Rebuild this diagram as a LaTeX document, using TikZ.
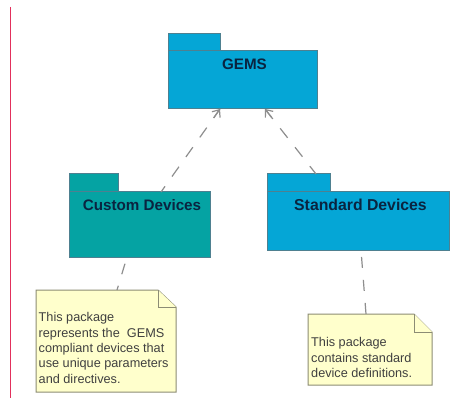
\documentclass[tikz,border=0pt]{standalone}
\usepackage{fontspec}
\setmainfont{Liberation Sans}
\usetikzlibrary{arrows.meta,calc}
\definecolor{pkgblue}{HTML}{05A6D6}
\definecolor{pkgteal}{HTML}{05A3A3}
\definecolor{pkgline}{HTML}{4E8090}
\definecolor{notefill}{HTML}{FFFFCC}
\definecolor{noteline}{HTML}{8C8C74}
\definecolor{linkgray}{HTML}{8E8E8E}
\definecolor{titleink}{HTML}{0A2440}
\definecolor{marginred}{HTML}{E2305C}
\tikzset{
  x=1pt,y=-1pt,
  pkgpart/.style={draw=pkgline,line width=1pt,anchor=north west,inner sep=0pt,outer sep=0pt},
  pkgtitle/.style={anchor=center,font=\bfseries\fontsize{15.2}{18}\selectfont,text=titleink,inner sep=0pt},
  noteframe/.style={anchor=north west,inner sep=0pt,outer sep=0pt},
  noteshape/.style={draw=noteline,line width=1pt,fill=notefill,line join=miter},
  notetext/.style={anchor=north west,inner sep=0pt,align=left,text=black!75,font=\fontsize{12.7}{15.3}\selectfont},
  deplink/.style={draw=linkgray,line width=1.2pt,dash pattern=on 12pt off 12pt},
  notelink/.style={draw=linkgray,line width=1.2pt,dash pattern=on 11pt off 12pt,dash phase=16pt},
  barb/.style={-{Straight Barb[length=6pt,width=10pt,line width=1.2pt]}}
}
\begin{document}
\begin{tikzpicture}
\useasboundingbox (0,0) rectangle (455,398);
\fill[white] (0,0) rectangle (455,398);
\draw[marginred,line width=1.1pt] (10.5,7) -- (10.5,398);

% packages
\node[pkgpart,fill=pkgblue,minimum width=52pt,minimum height=17pt] (gemstab) at (168,34) {};
\node[pkgpart,fill=pkgblue,minimum width=149pt,minimum height=58pt] (gems) at (168,51) {};
\node[pkgpart,fill=pkgteal,minimum width=49pt,minimum height=18pt] (customtab) at (69,174) {};
\node[pkgpart,fill=pkgteal,minimum width=141pt,minimum height=65pt] (custom) at (69,192) {};
\node[pkgpart,fill=pkgblue,minimum width=63pt,minimum height=18pt] (stdtab) at (267,174) {};
\node[pkgpart,fill=pkgblue,minimum width=182pt,minimum height=58pt] (std) at (267,192) {};

\node[pkgtitle] (gemstitle) at (244.5,64) {GEMS};
\node[pkgtitle] (customtitle) at (142,205) {Custom Devices};
\node[pkgtitle,font=\bfseries\fontsize{15.8}{18}\selectfont] (stdtitle) at (360.5,205) {Standard Devices};

% notes
\node[noteframe,minimum width=140pt,minimum height=102pt] (note1) at (36,290) {};
\node[noteframe,minimum width=124pt,minimum height=71pt] (note2) at (308,314) {};
\draw[noteshape] (note1.north west) -- ($(note1.north east)+(-18,0)$) -- ($(note1.north east)+(0,17)$) -- (note1.south east) -- (note1.south west) -- cycle;
\draw[noteshape] ($(note1.north east)+(-18,0)$) -- ($(note1.north east)+(-18,17)$) -- ($(note1.north east)+(0,17)$);
\draw[noteshape] (note2.north west) -- ($(note2.north east)+(-18,0)$) -- ($(note2.north east)+(0,18)$) -- (note2.south east) -- (note2.south west) -- cycle;
\draw[noteshape] ($(note2.north east)+(-18,0)$) -- ($(note2.north east)+(-18,18)$) -- ($(note2.north east)+(0,18)$);
\node[notetext] (note1text) at (38.5,312.5) {This package\\represents the\ \ GEMS\\compliant devices that\\use unique parameters\\and directives.};
\node[notetext] (note2text) at (311,337.5) {This package\\contains standard\\device definitions.};

% connectors
\coordinate (customout) at ($(custom.north west)+(92,0)$);
\coordinate (gemsinL) at ($(gems.south west)+(52,0)$);
\coordinate (stdout) at ($(stdtab.north west)+(49,0)$);
\coordinate (gemsinR) at ($(gems.south west)+(97,0)$);
\coordinate (customnote) at ($(custom.south west)+(58,0)$);
\coordinate (note1top) at ($(note1.north west)+(81,0)$);
\coordinate (stdnote) at ($(std.south west)+(94,0)$);
\coordinate (note2top) at ($(note2.north west)+(58,0)$);
\path[deplink,dash phase=5pt] (customout) -- (gemsinL);
\path[deplink,dash phase=2pt] (stdout) -- (gemsinR);
\draw[linkgray,line width=1.2pt,barb] ($(gemsinL)!11pt!(customout)$) -- (gemsinL);
\draw[linkgray,line width=1.2pt,barb] ($(gemsinR)!11pt!(stdout)$) -- (gemsinR);
\path[notelink] (customnote) -- (note1top);
\path[notelink] (stdnote) -- (note2top);
\end{tikzpicture}
\end{document}
